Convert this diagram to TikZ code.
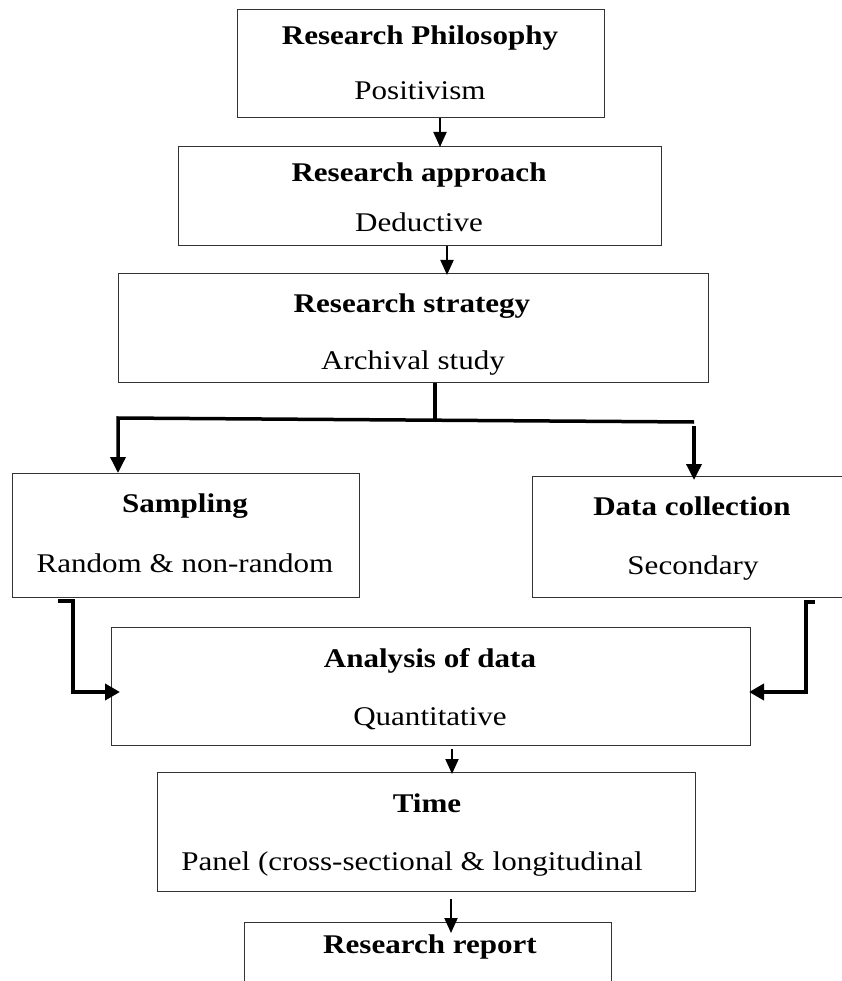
\documentclass[tikz,border=0pt]{standalone}
\usepackage{fontspec}
\setmainfont{Liberation Serif}
\usepackage{graphicx}
\usetikzlibrary{arrows.meta}

% wide-set text: Times metrics stretched horizontally
\newcommand{\wide}[1]{\scalebox{1.15}[1]{#1}}

\tikzset{
  box/.style={draw=black!80, line width=1pt, inner sep=0pt, anchor=north west},
  openbox/.style={inner sep=0pt, anchor=north west},
  head/.style={anchor=base, inner sep=0pt, font=\fontsize{27}{30}\selectfont\bfseries},
  body/.style={anchor=base, inner sep=0pt, font=\fontsize{27}{30}\selectfont},
  thinarrow/.style={line width=2pt, -{Triangle[length=15pt,width=13pt]}},
  thickline/.style={line width=4pt},
  thickarrow/.style={line width=3.5pt, -{Triangle[length=16pt,width=15pt]}},
  sidearrow/.style={line width=4pt, line join=miter, -{Triangle[length=15pt,width=16pt]}},
}

\begin{document}
\begin{tikzpicture}[x=1pt, y=-1pt]
  \useasboundingbox (0,0) rectangle (842,981);

  % boxes
  \node[box, minimum width=367pt, minimum height=108pt] (phil) at (237,9) {};
  \node[box, minimum width=483pt, minimum height=99pt]  (appr) at (178,146) {};
  \node[box, minimum width=590pt, minimum height=109pt] (strat) at (118,273) {};
  \node[box, minimum width=347pt, minimum height=124pt] (samp) at (12,473) {};
  \node[openbox, minimum width=310pt, minimum height=121pt] (coll) at (532,476) {};
  \draw[black!80, line width=1pt] (coll.north east) -- (coll.north west) -- (coll.south west) -- (coll.south east);
  \node[box, minimum width=639pt, minimum height=118pt] (anal) at (111,627) {};
  \node[box, minimum width=538pt, minimum height=119pt] (time) at (157,772) {};
  \node[openbox, minimum width=367pt, minimum height=59pt] (rep) at (244,922) {};
  \draw[black!80, line width=1pt] (rep.south west) -- (rep.north west) -- (rep.north east) -- (rep.south east);

  % texts
  \node[head] (t1a) at (420,45)  {\wide{Research Philosophy}};
  \node[body] (t1b) at (420,100) {\wide{Positivism}};
  \node[head] (t2a) at (419,182) {\wide{Research approach}};
  \node[body] (t2b) at (419,232) {\wide{Deductive}};
  \node[head] (t3a) at (412,312) {\wide{Research strategy}};
  \node[body] (t3b) at (413,369) {\wide{Archival study}};
  \node[head] (t4a) at (185,512) {\wide{Sampling}};
  \node[body] (t4b) at (185,572) {\wide{Random \& non-random}};
  \node[head] (t5a) at (692,515) {\wide{Data collection}};
  \node[body] (t5b) at (693,574) {\wide{Secondary}};
  \node[head] (t6a) at (430,667) {\wide{Analysis of data}};
  \node[body] (t6b) at (430,725) {\wide{Quantitative}};
  \node[head] (t7a) at (427,812) {\wide{Time}};
  \node[body] (t7b) at (412,870) {\wide{Panel (cross-sectional \& longitudinal}};
  \node[head] (t8a) at (430,953) {\wide{Research report}};

  % connector anchors
  \coordinate (a1) at (440,0);
  \coordinate (a2) at (447,0);
  \coordinate (j)  at (435,420);
  \coordinate (jl) at (118,418);
  \coordinate (jr) at (694,422);
  \coordinate (r0) at (694,426);
  \coordinate (l0) at (58,601);
  \coordinate (l1) at (73,692);
  \coordinate (k0) at (815,602);
  \coordinate (k1) at (806,692);
  \coordinate (a3) at (452,0);
  \coordinate (a4) at (451,0);

  % straight links
  \draw[thinarrow, shorten >=-1pt] (phil.south -| a1) -- (appr.north -| a1);
  \draw[thinarrow, shorten >=-2pt] (appr.south -| a2) -- (strat.north -| a2);

  % split below the strategy box
  \draw[thickline] (strat.south -| j) -- (j);
  \draw[thickarrow, line join=miter] (jr) -- (jl) -- (samp.north -| jl);
  \draw[thickarrow, shorten >=-4pt] (r0) -- (coll.north -| r0);

  % side links into the analysis box
  \draw[sidearrow, shorten >=-9pt] (l0) -| (l1) -- (anal.west |- l1);
  \draw[sidearrow, shorten >=-2pt] (k0) -| (k1) -- (anal.east |- k1);

  % lower links
  \draw[thinarrow, shorten >=-2pt] ([yshift=-3pt]anal.south -| a3) -- (time.north -| a3);
  \draw[thinarrow, shorten >=-11pt] ([yshift=-7pt]time.south -| a4) -- (rep.north -| a4);
\end{tikzpicture}
\end{document}
